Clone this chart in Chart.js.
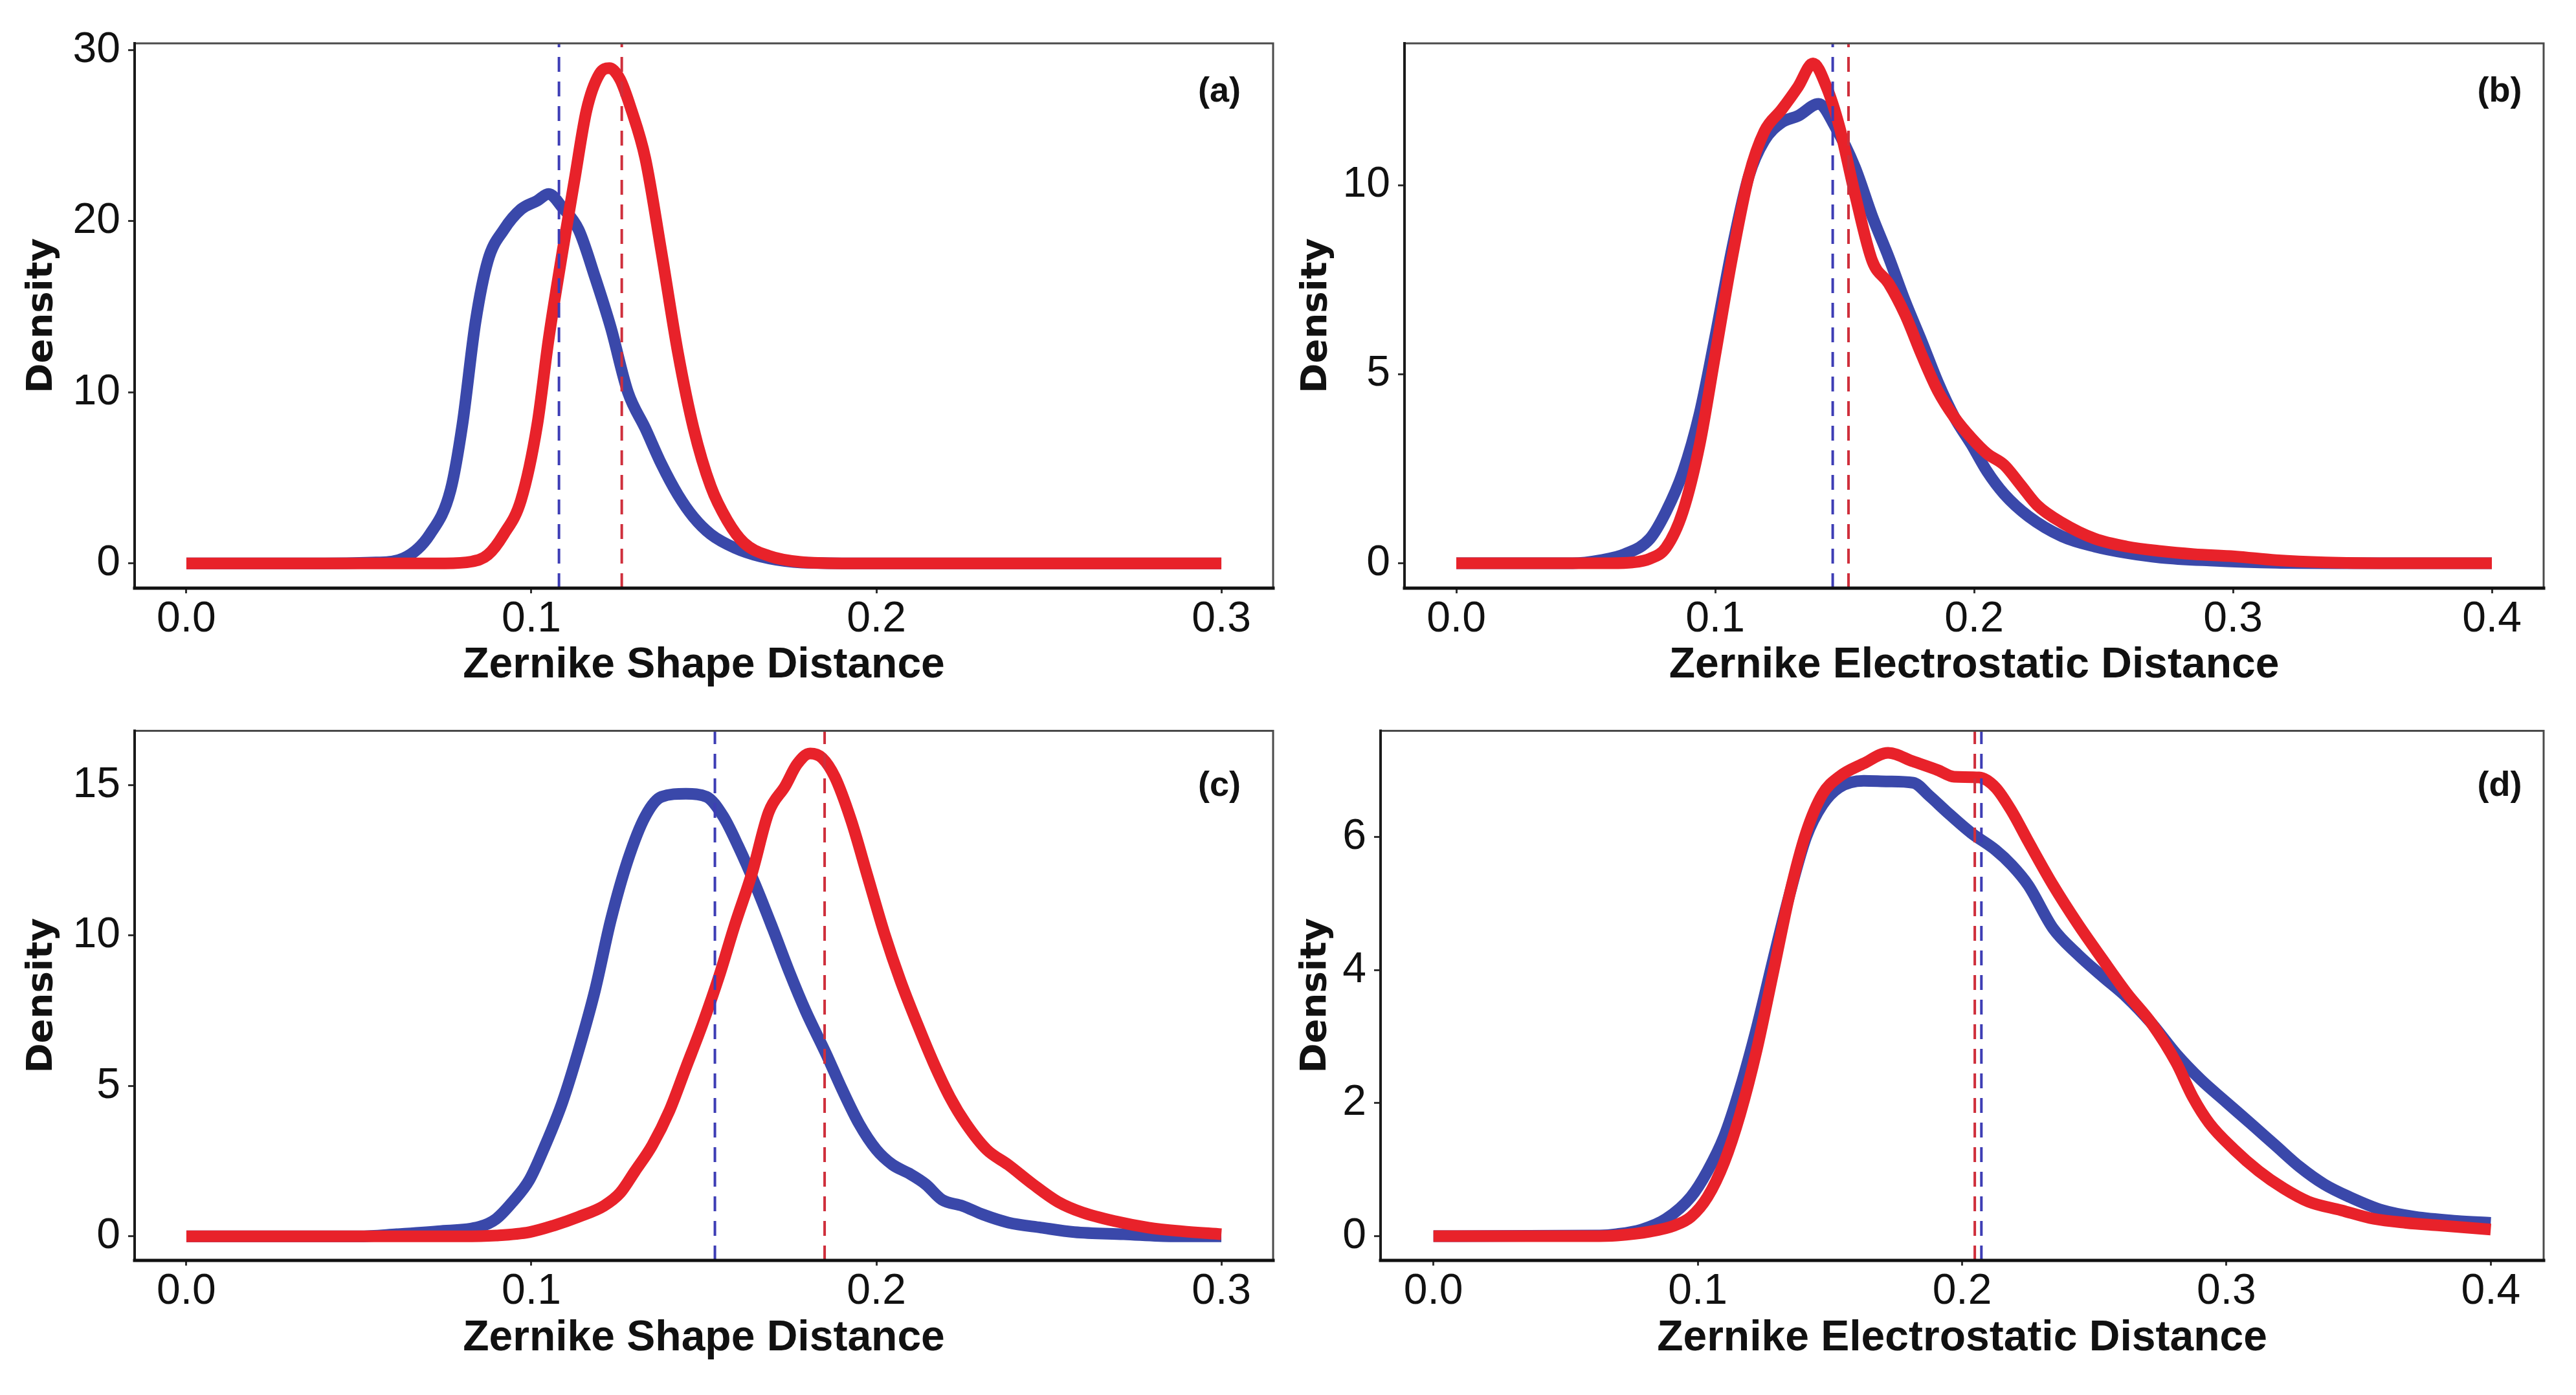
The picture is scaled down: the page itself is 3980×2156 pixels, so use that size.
<!DOCTYPE html>
<html>
<head>
<meta charset="utf-8">
<script src="https://cdn.jsdelivr.net/npm/chart.js@4.4.1/dist/chart.umd.min.js"></script>
<style>
  html, body { margin: 0; padding: 0; background: #ffffff; overflow: hidden; }
  canvas { position: absolute; }
</style>
</head>
<body>
<canvas id="cA" width="1990" height="1078" style="left:0px;top:0px"></canvas>
<canvas id="cB" width="1990" height="1078" style="left:1990px;top:0px"></canvas>
<canvas id="cC" width="1990" height="1078" style="left:0px;top:1078px"></canvas>
<canvas id="cD" width="1990" height="1078" style="left:1990px;top:1078px"></canvas>
<script>
// ---------------- DATA ----------------
const panelLabels = ['(a)', '(b)', '(c)', '(d)'];
const xTitles = ['Zernike Shape Distance', 'Zernike Electrostatic Distance', 'Zernike Shape Distance', 'Zernike Electrostatic Distance'];
const yTitle = 'Density';

const xTicksShape = [0.0, 0.1, 0.2, 0.3];
const xTicksElec = [0.0, 0.1, 0.2, 0.3, 0.4];
const yTicksA = [0, 10, 20, 30];
const yTicksB = [0, 5, 10];
const yTicksC = [0, 5, 10, 15];
const yTicksD = [0, 2, 4, 6];

// panel (a)
const aBlueX = [0, 0.04, 0.055, 0.063, 0.0706, 0.0766, 0.080, 0.0838, 0.0874, 0.092, 0.097, 0.1017, 0.105, 0.109, 0.1137, 0.1185, 0.123, 0.128, 0.133, 0.1377, 0.1425, 0.147, 0.152, 0.159, 0.1664, 0.176, 0.19, 0.3];
const aBlueY = [0, 0, 0.05, 0.3, 1.7, 4.3, 8.1, 14.1, 17.7, 19.5, 20.7, 21.2, 21.6, 20.8, 19.5, 16.7, 13.8, 10.0, 7.9, 5.8, 4.0, 2.7, 1.7, 0.9, 0.4, 0.08, 0, 0];
const aRedX = [0, 0.075, 0.0826, 0.0874, 0.092, 0.097, 0.1017, 0.105, 0.109, 0.1125, 0.116, 0.1197, 0.1226, 0.1257, 0.129, 0.133, 0.1377, 0.1425, 0.147, 0.152, 0.1568, 0.1616, 0.1688, 0.178, 0.19, 0.3];
const aRedY = [0, 0, 0.1, 0.5, 1.7, 3.7, 8.1, 13.1, 18.2, 22.4, 26.5, 28.6, 28.95, 28.3, 26.5, 23.7, 18.2, 12.3, 7.9, 4.5, 2.5, 1.2, 0.44, 0.08, 0, 0];
const aMeans = [0.108, 0.1262]; // blue, red

// panel (b)
const bBlueX = [0, 0.045, 0.0557, 0.065, 0.0748, 0.081, 0.0875, 0.094, 0.100, 0.1066, 0.113, 0.119, 0.1257, 0.132, 0.140, 0.1464, 0.154, 0.1607, 0.167, 0.1734, 0.1798, 0.186, 0.1925, 0.199, 0.205, 0.2116, 0.221, 0.234, 0.2466, 0.259, 0.272, 0.291, 0.3166, 0.34, 0.4];
const bBlueY = [0, 0, 0.08, 0.24, 0.65, 1.36, 2.4, 3.96, 5.98, 8.34, 10.24, 11.18, 11.66, 11.83, 12.15, 11.54, 10.47, 9.17, 8.1, 6.92, 5.86, 4.79, 3.85, 3.14, 2.43, 1.83, 1.24, 0.71, 0.44, 0.27, 0.15, 0.07, 0.01, 0, 0];
const bRedX = [0, 0.06, 0.068, 0.0748, 0.081, 0.0875, 0.094, 0.100, 0.1066, 0.113, 0.119, 0.1257, 0.132, 0.1378, 0.143, 0.148, 0.154, 0.1607, 0.167, 0.1734, 0.1798, 0.186, 0.1925, 0.199, 0.205, 0.2116, 0.218, 0.2243, 0.234, 0.2466, 0.259, 0.272, 0.2848, 0.3007, 0.3166, 0.3357, 0.36, 0.4];
const bRedY = [0, 0, 0.02, 0.12, 0.41, 1.36, 3.14, 5.5, 8.1, 10.24, 11.42, 12.0, 12.6, 13.22, 12.6, 11.54, 9.76, 7.99, 7.4, 6.57, 5.5, 4.56, 3.85, 3.31, 2.9, 2.6, 2.07, 1.54, 1.07, 0.65, 0.44, 0.32, 0.24, 0.18, 0.08, 0.02, 0, 0];
const bMeans = [0.1454, 0.1515];

// panel (c)
const cBlueX = [0, 0.05, 0.061, 0.073, 0.085, 0.0898, 0.0946, 0.0994, 0.104, 0.109, 0.1137, 0.1185, 0.123, 0.128, 0.133, 0.1377, 0.1448, 0.1508, 0.1556, 0.160, 0.165, 0.170, 0.1748, 0.1795, 0.1855, 0.190, 0.195, 0.200, 0.2047, 0.2095, 0.2143, 0.219, 0.225, 0.231, 0.2382, 0.2478, 0.2574, 0.2717, 0.286, 0.3];
const cBlueY = [0, 0, 0.07, 0.17, 0.32, 0.58, 1.15, 1.87, 3.02, 4.46, 6.19, 8.2, 10.5, 12.52, 13.96, 14.61, 14.71, 14.61, 13.96, 12.96, 11.66, 10.22, 8.78, 7.49, 6.05, 4.9, 3.74, 2.88, 2.38, 2.09, 1.73, 1.22, 1.01, 0.72, 0.46, 0.29, 0.14, 0.07, 0.0, 0.0];
const cRedX = [0, 0.08, 0.0898, 0.0994, 0.1065, 0.1137, 0.121, 0.1257, 0.130, 0.135, 0.140, 0.1448, 0.1496, 0.1544, 0.159, 0.164, 0.1688, 0.1736, 0.177, 0.1808, 0.1843, 0.188, 0.1927, 0.1975, 0.2023, 0.207, 0.2119, 0.2166, 0.2214, 0.226, 0.232, 0.2382, 0.2454, 0.2526, 0.2598, 0.2693, 0.2789, 0.2885, 0.3];
const cRedY = [0, 0, 0.03, 0.14, 0.36, 0.65, 1.01, 1.44, 2.16, 3.02, 4.17, 5.61, 7.05, 8.64, 10.36, 12.09, 14.1, 14.97, 15.69, 16.05, 15.9, 15.26, 13.82, 11.95, 10.08, 8.49, 7.05, 5.76, 4.61, 3.74, 2.88, 2.38, 1.73, 1.15, 0.79, 0.5, 0.29, 0.17, 0.07];
const cMeans = [0.1532, 0.185];

// panel (d)
const dBlueX = [0, 0.063, 0.0694, 0.0788, 0.088, 0.0974, 0.1037, 0.11, 0.116, 0.1223, 0.1286, 0.1348, 0.141, 0.1472, 0.1535, 0.1628, 0.172, 0.1815, 0.1877, 0.194, 0.2033, 0.2126, 0.2188, 0.225, 0.2344, 0.2437, 0.253, 0.2624, 0.2717, 0.281, 0.2904, 0.2998, 0.309, 0.3184, 0.3278, 0.337, 0.3465, 0.359, 0.3714, 0.387, 0.4];
const dBlueY = [0, 0.01, 0.03, 0.1, 0.26, 0.59, 0.98, 1.5, 2.22, 3.13, 4.17, 5.15, 6.0, 6.49, 6.75, 6.85, 6.84, 6.82, 6.62, 6.39, 6.07, 5.81, 5.58, 5.28, 4.63, 4.24, 3.91, 3.59, 3.2, 2.74, 2.35, 2.02, 1.7, 1.37, 1.04, 0.78, 0.59, 0.39, 0.29, 0.23, 0.2];
const dRedX = [0, 0.06, 0.0694, 0.082, 0.0912, 0.0974, 0.1037, 0.11, 0.116, 0.1223, 0.1286, 0.1348, 0.141, 0.1472, 0.1535, 0.1628, 0.172, 0.1815, 0.1908, 0.197, 0.2064, 0.2126, 0.2188, 0.225, 0.2344, 0.2437, 0.253, 0.2624, 0.2717, 0.281, 0.2873, 0.2935, 0.303, 0.3122, 0.3216, 0.331, 0.3434, 0.3558, 0.368, 0.3807, 0.4];
const dRedY = [0, 0, 0.01, 0.07, 0.16, 0.29, 0.59, 1.11, 1.83, 2.8, 3.98, 5.15, 6.07, 6.65, 6.91, 7.11, 7.27, 7.14, 7.01, 6.91, 6.9, 6.75, 6.39, 5.94, 5.28, 4.7, 4.17, 3.65, 3.2, 2.61, 2.09, 1.7, 1.3, 0.98, 0.72, 0.52, 0.39, 0.26, 0.2, 0.16, 0.1];
const dMeans = [0.2073, 0.2048];

// ---------------- STYLE ----------------
const BLUE = '#3a48aa';
const RED = '#e8222a';
const BLUE_DASH = '#3d3db5';
const RED_DASH = '#cf2f3c';
const TXT = '#111111';
const SANS = '"Liberation Sans", Arial, sans-serif';
const LINE_W = 18;

function zip(xs, ys) { return xs.map((x, i) => ({x: x, y: ys[i]})); }

const framePlugin = {
  id: 'frame',
  afterDatasetsDraw(chart, args, opts) {
    const ctx = chart.ctx;
    const a = chart.chartArea;
    const xs = chart.scales.x;
    ctx.save();
    // mean lines
    ctx.lineWidth = 4;
    ctx.setLineDash([23, 15]);
    [BLUE_DASH, RED_DASH].forEach((col, i) => {
      const px = xs.getPixelForValue(opts.means[i]);
      ctx.strokeStyle = col;
      ctx.beginPath();
      ctx.moveTo(px, a.bottom);
      ctx.lineTo(px, a.top);
      ctx.stroke();
    });
    ctx.setLineDash([]);
    // frame
    ctx.lineCap = 'square';
    ctx.strokeStyle = '#4a4a4a';
    ctx.lineWidth = 3;
    ctx.beginPath();
    ctx.moveTo(a.left, a.top); ctx.lineTo(a.right, a.top); ctx.lineTo(a.right, a.bottom);
    ctx.stroke();
    ctx.strokeStyle = '#1a1a1a';
    ctx.lineWidth = 4;
    ctx.beginPath();
    ctx.moveTo(a.left, a.top); ctx.lineTo(a.left, a.bottom);
    ctx.stroke();
    ctx.strokeStyle = '#111111';
    ctx.lineWidth = 5;
    ctx.beginPath();
    ctx.moveTo(a.left, a.bottom); ctx.lineTo(a.right, a.bottom);
    ctx.stroke();
    // panel label
    ctx.fillStyle = TXT;
    ctx.font = 'bold 54px ' + SANS;
    ctx.textAlign = 'center';
    ctx.textBaseline = 'middle';
    ctx.fillText(opts.label, a.right - opts.labelDx, a.top + opts.labelDy);
    ctx.restore();
  }
};

function makePanel(id, cfg) {
  const ctx = document.getElementById(id).getContext('2d');
  return new Chart(ctx, {
    type: 'line',
    data: {
      datasets: [
        { label: 'red', data: zip(cfg.redX, cfg.redY), borderColor: RED, borderWidth: LINE_W,
          pointRadius: 0, cubicInterpolationMode: 'monotone', borderCapStyle: 'butt',
          borderJoinStyle: 'round', fill: false, order: 0 },
        { label: 'blue', data: zip(cfg.blueX, cfg.blueY), borderColor: BLUE, borderWidth: LINE_W,
          pointRadius: 0, cubicInterpolationMode: 'monotone', borderCapStyle: 'butt',
          borderJoinStyle: 'round', fill: false, order: 1 }
      ]
    },
    options: {
      responsive: false,
      animation: false,
      devicePixelRatio: 1,
      layout: { padding: { left: 0, right: cfg.padRight, top: cfg.padTop, bottom: 0 } },
      plugins: {
        legend: { display: false },
        tooltip: { enabled: false },
        frame: { means: cfg.means, label: cfg.label, labelDx: cfg.labelDx, labelDy: cfg.labelDy }
      },
      scales: {
        x: {
          type: 'linear',
          min: cfg.xMin, max: cfg.xMax,
          afterBuildTicks: s => { s.ticks = cfg.xTicks.map(v => ({ value: v })); },
          afterFit: s => { s.height = cfg.xHeight; },
          grid: { drawOnChartArea: false, drawTicks: true, tickLength: 8, color: '#333333', lineWidth: 3 },
          border: { display: false },
          ticks: { autoSkip: false, maxRotation: 0, padding: 1, color: TXT,
                   font: { family: SANS, size: 66 }, callback: v => Number(v).toFixed(1) },
          title: { display: true, text: cfg.xTitle, color: TXT,
                   font: { family: SANS, size: 66, weight: 'bold' },
                   padding: { top: 0, bottom: cfg.xTitlePad } }
        },
        y: {
          type: 'linear',
          min: cfg.yMin, max: cfg.yMax,
          afterBuildTicks: s => { s.ticks = cfg.yTicks.map(v => ({ value: v })); },
          afterFit: s => { s.width = cfg.yWidth; },
          grid: { drawOnChartArea: false, drawTicks: true, tickLength: 10, color: '#333333', lineWidth: 3 },
          border: { display: false },
          ticks: { autoSkip: false, padding: 12, color: TXT,
                   font: { family: SANS, size: 66 }, callback: v => String(v) },
          title: { display: true, text: yTitle, color: TXT,
                   font: { family: '"DejaVu Sans", sans-serif', size: 56, weight: 'bold' },
                   padding: { top: cfg.yTitlePad, bottom: 0 } }
        }
      }
    },
    plugins: [framePlugin]
  });
}

makePanel('cA', {
  blueX: aBlueX, blueY: aBlueY, redX: aRedX, redY: aRedY, means: aMeans,
  label: panelLabels[0], xTitle: xTitles[0], xTicks: xTicksShape, yTicks: yTicksA,
  xMin: -0.015, xMax: 0.315, yMin: -1.45, yMax: 30.4,
  padRight: 23, padTop: 67, xHeight: 169, yWidth: 208, xTitlePad: 10, yTitlePad: 32,
  labelDx: 83, labelDy: 75
});
makePanel('cB', {
  blueX: bBlueX, blueY: bBlueY, redX: bRedX, redY: bRedY, means: bMeans,
  label: panelLabels[1], xTitle: xTitles[1], xTicks: xTicksElec, yTicks: yTicksB,
  xMin: -0.02, xMax: 0.42, yMin: -0.66, yMax: 13.75,
  padRight: 50, padTop: 67, xHeight: 169, yWidth: 180, xTitlePad: 10, yTitlePad: 11,
  labelDx: 68, labelDy: 75
});
makePanel('cC', {
  blueX: cBlueX, blueY: cBlueY, redX: cRedX, redY: cRedY, means: cMeans,
  label: panelLabels[2], xTitle: xTitles[2], xTicks: xTicksShape, yTicks: yTicksC,
  xMin: -0.015, xMax: 0.315, yMin: -0.8, yMax: 16.8,
  padRight: 23, padTop: 27, xHeight: 208, yWidth: 208, xTitlePad: 48, yTitlePad: 32,
  labelDx: 83, labelDy: 86
});
makePanel('cD', {
  blueX: dBlueX, blueY: dBlueY, redX: dRedX, redY: dRedY, means: dMeans,
  label: panelLabels[3], xTitle: xTitles[3], xTicks: xTicksElec, yTicks: yTicksD,
  xMin: -0.02, xMax: 0.42, yMin: -0.365, yMax: 7.6,
  padRight: 50, padTop: 27, xHeight: 208, yWidth: 143, xTitlePad: 48, yTitlePad: 10,
  labelDx: 68, labelDy: 86
});
</script>
</body>
</html>
